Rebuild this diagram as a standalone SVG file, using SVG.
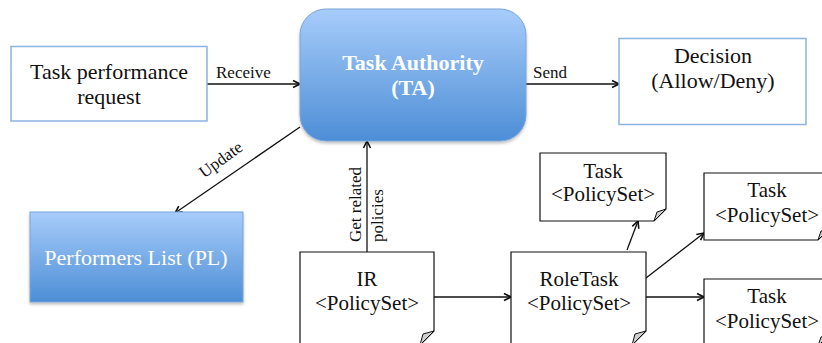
<svg xmlns="http://www.w3.org/2000/svg" width="822" height="343" viewBox="0 0 822 343">
  <defs>
    <linearGradient id="blueFill" x1="0" y1="0" x2="0" y2="1">
      <stop offset="0" stop-color="#a7ccfa"/>
      <stop offset="1" stop-color="#4d8ed6"/>
    </linearGradient>
    <marker id="arrow" viewBox="0 0 10 10" refX="9" refY="5" markerWidth="10" markerHeight="10" markerUnits="userSpaceOnUse" orient="auto">
      <path d="M2,1.5 L9,5 L2,8.5" fill="none" stroke="#111" stroke-width="1.6" stroke-linejoin="miter"/>
    </marker>
    <filter id="softShadow" x="-10%" y="-10%" width="120%" height="125%">
      <feDropShadow dx="0" dy="2" stdDeviation="1.5" flood-color="#000" flood-opacity="0.25"/>
    </filter>
  </defs>
  <style>
    .plain { fill: #ffffff; stroke: #8db3e2; stroke-width: 1.5; }
    .blue { fill: url(#blueFill); stroke: #79a5da; stroke-width: 1; filter: url(#softShadow); }
    .doc { fill: #ffffff; stroke: #111; stroke-width: 1.2; }
    .fold { fill: #cfcfcf; stroke: #111; stroke-width: 1; stroke-linejoin: round; }
    .serif { font-family: "Liberation Serif", "Times New Roman", serif; }
    .big { font-size: 22px; fill: #111; text-anchor: middle; }
    .white { fill: #ffffff; }
    .bold { font-weight: bold; }
    .label { font-size: 17px; fill: #111; }
    .docText { font-size: 21px; fill: #111; text-anchor: middle; }
    .conn { fill: none; stroke: #111; stroke-width: 1.3; marker-end: url(#arrow); }
  </style>

  <!-- connectors -->
  <g id="connectors">
    <line class="conn" x1="207" y1="84" x2="300" y2="84"/>
    <line class="conn" x1="526" y1="84" x2="619" y2="84"/>
    <line class="conn" x1="300" y1="127" x2="175" y2="213"/>
    <line class="conn" x1="367" y1="252" x2="367" y2="141"/>
    <line class="conn" x1="434" y1="297" x2="511" y2="297"/>
    <line class="conn" x1="627" y1="250" x2="638" y2="221"/>
    <line class="conn" x1="646" y1="278" x2="704" y2="233"/>
    <line class="conn" x1="646" y1="297" x2="704" y2="297"/>
    <text class="serif label" x="216" y="78">Receive</text>
    <text class="serif label" x="533" y="78">Send</text>
    <text class="serif label" text-anchor="middle" transform="translate(224,164) rotate(-36)">Update</text>
    <text class="serif label" transform="translate(361,242) rotate(-90)">Get related</text>
    <text class="serif label" transform="translate(383,242) rotate(-90)">policies</text>
  </g>

  <!-- request box -->
  <g id="request">
    <rect class="plain" x="11" y="46.5" width="196" height="74.5"/>
    <text class="serif big" x="109" y="79">Task performance</text>
    <text class="serif big" x="109" y="104">request</text>
  </g>

  <!-- task authority -->
  <g id="ta">
    <rect class="blue" x="300" y="9" width="226" height="132" rx="26" ry="26"/>
    <text class="serif big white bold" x="413" y="70">Task Authority</text>
    <text class="serif big white bold" x="413" y="95">(TA)</text>
  </g>

  <!-- decision -->
  <g id="decision">
    <rect class="plain" x="619" y="38.5" width="187" height="86"/>
    <text class="serif big" x="713" y="63">Decision</text>
    <text class="serif big" x="713" y="88">(Allow/Deny)</text>
  </g>

  <!-- performers list -->
  <g id="pl">
    <rect class="blue" x="30" y="212" width="213" height="90"/>
    <text class="serif big white" x="136" y="265">Performers List (PL)</text>
  </g>

  <!-- IR policy set -->
  <g id="ir">
    <path class="doc" d="M300,252 H434 V331 L420,345 H300 Z"/>
    <path class="fold" d="M434,331 L420,345 L423,334 Z"/>
    <text class="serif docText" x="367" y="286">IR</text>
    <text class="serif docText" x="367" y="310">&lt;PolicySet&gt;</text>
  </g>

  <!-- role task policy set -->
  <g id="roletask">
    <path class="doc" d="M511,252 H646 V331 L632,345 H511 Z"/>
    <path class="fold" d="M646,331 L632,345 L635,334 Z"/>
    <text class="serif docText" x="579" y="286">RoleTask</text>
    <text class="serif docText" x="579" y="310">&lt;PolicySet&gt;</text>
  </g>

  <!-- task policy set, above -->
  <g id="task1">
    <path class="doc" d="M540,153 H666 V209 L654,221 H540 Z"/>
    <path class="fold" d="M666,209 L654,221 L657,212 Z"/>
    <text class="serif docText" x="603" y="178">Task</text>
    <text class="serif docText" x="603" y="201">&lt;PolicySet&gt;</text>
  </g>

  <!-- task policy set, right upper -->
  <g id="task2">
    <path class="doc" d="M704,173 H830 V228 L818,240 H704 Z"/>
    <path class="fold" d="M830,228 L818,240 L821,231 Z"/>
    <text class="serif docText" x="767" y="197">Task</text>
    <text class="serif docText" x="767" y="222">&lt;PolicySet&gt;</text>
  </g>

  <!-- task policy set, right lower -->
  <g id="task3">
    <path class="doc" d="M704,279 H830 V334 L818,346 H704 Z"/>
    <path class="fold" d="M830,334 L818,346 L821,337 Z"/>
    <text class="serif docText" x="767" y="303">Task</text>
    <text class="serif docText" x="767" y="328">&lt;PolicySet&gt;</text>
  </g>
</svg>
